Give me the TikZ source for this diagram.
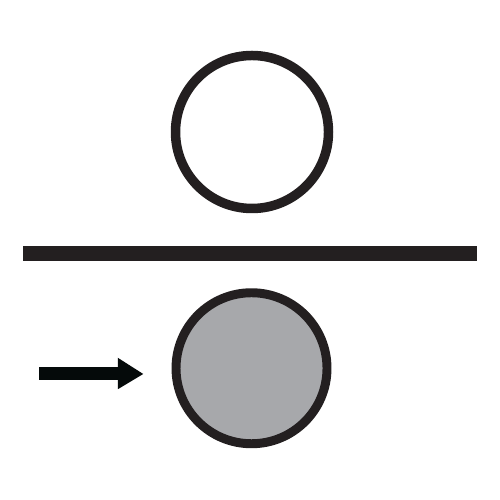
\documentclass[tikz,border=0pt]{standalone}
\usetikzlibrary{calc,positioning}
\definecolor{ringblack}{HTML}{231F20}
\definecolor{arrowblack}{HTML}{050A0A}
\definecolor{ballgray}{HTML}{A7A8AB}
\begin{document}
\begin{tikzpicture}[scale = 0.5]
\useasboundingbox (0,0) rectangle (20,20);
\coordinate (T) at (10.08,14.72);
\coordinate (B) at (10.06,5.27);
\coordinate (L) at (0.93,9.57);
\coordinate (R) at (19.07,10.16);
\coordinate (S) at (1.56,4.8);
\coordinate (H) at (4.71,5.04);
\coordinate (P) at (5.73,5.04);
\draw[color = ringblack, line width = 5.4pt] (T) circle (3.06);
\fill[ringblack] (L) rectangle (R);
\draw[color = ringblack, fill = ballgray, line width = 5.1pt] (B) circle (3.02);
\fill[arrowblack] (S) rectangle ($ (H) + (0,0.27) $);
\fill[arrowblack] ($ (H) + (0,-0.61) $) -- (P) -- ($ (H) + (0,0.65) $) -- cycle;
\end{tikzpicture}
\end{document}
